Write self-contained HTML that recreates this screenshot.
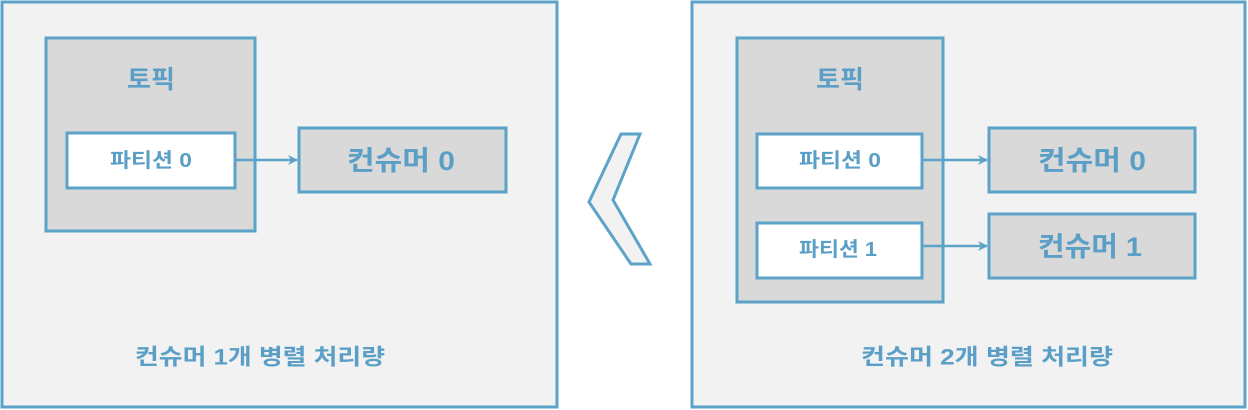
<!DOCTYPE html>
<html><head><meta charset="utf-8"><style>
html,body{margin:0;padding:0;background:#fff;}
svg{display:block;}
text{font-family:"Liberation Sans","Noto Sans CJK KR",sans-serif;font-weight:bold;fill:#5b9fc6;text-anchor:middle;dominant-baseline:central;}
</style></head><body>
<svg width="1248" height="410" xmlns="http://www.w3.org/2000/svg">
<defs><marker id="a" markerWidth="12" markerHeight="12" refX="10" refY="6" orient="auto" markerUnits="userSpaceOnUse"><path d="M1,1 L11,6 L1,11 L4,6 Z" fill="#5ba3c8"/></marker></defs>
<g stroke="#5ba3c8" stroke-width="3">
<rect x="2" y="2" width="555" height="405" fill="#f2f2f2"/>
<rect x="46" y="38" width="209" height="193" fill="#d9d9d9"/>
<rect x="67" y="133" width="168" height="55" fill="#fff"/>
<rect x="299" y="128" width="207" height="64" fill="#d9d9d9"/>
<line x1="235" y1="160" x2="297" y2="160" marker-end="url(#a)" stroke-width="2.5"/>

<polygon points="621,134 640,134 613,200 650,264 631,264 589,202" fill="#f2f2f2" stroke-width="3"/>

<rect x="692" y="2" width="553" height="405" fill="#f2f2f2"/>
<rect x="737" y="38" width="206" height="264" fill="#d9d9d9"/>
<rect x="757" y="134" width="165" height="54" fill="#fff"/>
<rect x="757" y="223" width="165" height="55" fill="#fff"/>
<rect x="989" y="128" width="206" height="64" fill="#d9d9d9"/>
<rect x="989" y="214" width="206" height="64" fill="#d9d9d9"/>
<line x1="922" y1="160" x2="987" y2="160" marker-end="url(#a)" stroke-width="2.5"/>
<line x1="922" y1="246" x2="987" y2="246" marker-end="url(#a)" stroke-width="2.5"/>
</g>
<text x="151" y="80" font-size="25" textLength="48" lengthAdjust="spacingAndGlyphs">토픽</text>
<text x="151" y="161" font-size="20" textLength="82" lengthAdjust="spacingAndGlyphs">파티션 0</text>
<text x="401" y="161" font-size="27" textLength="108" lengthAdjust="spacingAndGlyphs">컨슈머 0</text>
<text x="260" y="357" font-size="22" textLength="250" lengthAdjust="spacingAndGlyphs">컨슈머 1개 병렬 처리량</text>

<text x="840" y="80" font-size="25" textLength="48" lengthAdjust="spacingAndGlyphs">토픽</text>
<text x="840" y="161" font-size="20" textLength="82" lengthAdjust="spacingAndGlyphs">파티션 0</text>
<text x="838" y="250" font-size="20" textLength="78" lengthAdjust="spacingAndGlyphs">파티션 1</text>
<text x="1092" y="161" font-size="27" textLength="108" lengthAdjust="spacingAndGlyphs">컨슈머 0</text>
<text x="1090" y="247" font-size="27" textLength="104" lengthAdjust="spacingAndGlyphs">컨슈머 1</text>
<text x="987" y="357" font-size="22" textLength="252" lengthAdjust="spacingAndGlyphs">컨슈머 2개 병렬 처리량</text>
</svg>
</body></html>
